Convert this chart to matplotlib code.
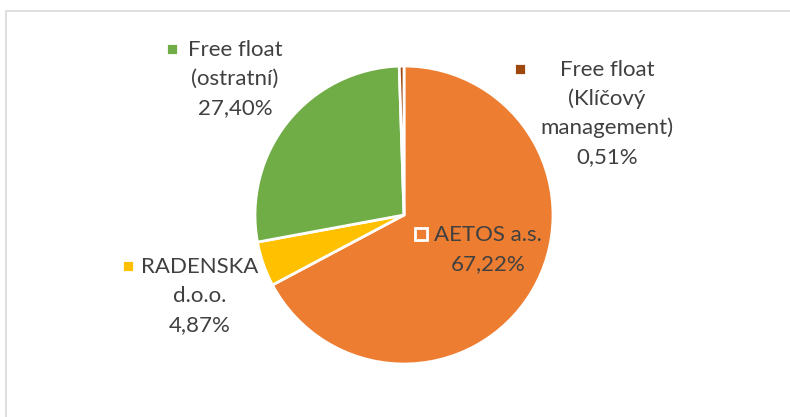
import matplotlib
matplotlib.use("Agg")
import matplotlib.pyplot as plt
from matplotlib.patches import Rectangle

labels = ["AETOS a.s.", "RADENSKA\nd.o.o.", "Free float\n(ostratní)", "Free float\n(Klíčový\nmanagement)"]
values = [67.22, 4.87, 27.40, 0.51]
colors = ["#ED7D31", "#FFC000", "#70AD47", "#9E480E"]

W, H = 790, 417
fig = plt.figure(figsize=(W / 100, H / 100), dpi=100)
ax = fig.add_axes([0, 0, 1, 1])

cx, cy, r = 404, H - 215, 149
ax.pie(values, colors=colors, startangle=90, counterclock=False,
       center=(cx, cy), radius=r,
       wedgeprops=dict(edgecolor="white", linewidth=2))
ax.set_xlim(0, W)
ax.set_ylim(0, H)
ax.set_aspect("equal")
ax.axis("off")

# chart border
ax.add_patch(Rectangle((6, -10), W + 10, 406 + 10, fill=False, edgecolor="#D9D9D9", linewidth=1.2))

# label layout: (center x of text block, first-line center y, marker x)
layout = [
    (488, 234, 421),
    (200, 266, 128),
    (235, 49, 172),
    (607, 69, 520),
]
line_h = 29
font = dict(family=["Lato", "DejaVu Sans"], size=16, color="#404040")
for (lab, val, col, (tx, ty, mx)) in zip(labels, values, colors, layout):
    lines = lab.split("\n") + [f"{val:.2f}".replace(".", ",") + "%"]
    for i, ln in enumerate(lines):
        ax.text(tx, H - (ty + i * line_h + 7), ln, ha="center", va="baseline", **font)
    ax.plot([mx], [H - ty], marker="s", markersize=9, markerfacecolor=col,
            markeredgecolor="white", markeredgewidth=2, linestyle="none")

plt.savefig("out.png", dpi=100)
